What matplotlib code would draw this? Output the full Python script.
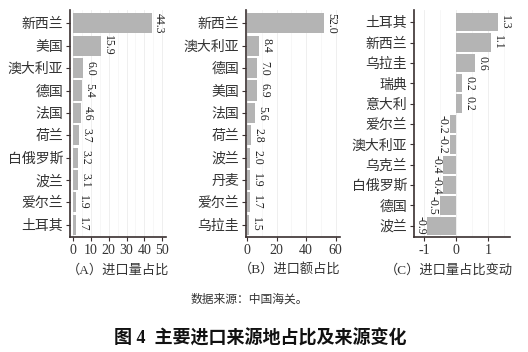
import matplotlib
matplotlib.use("Agg")
import matplotlib.pyplot as plt
from matplotlib.ticker import MultipleLocator

plt.rcParams['font.family'] = ['Liberation Serif', 'Noto Sans CJK SC', 'DejaVu Sans']
plt.rcParams['axes.unicode_minus'] = False

# Panel A: import volume share (%)
cats_a = ["新西兰", "美国", "澳大利亚", "德国", "法国", "荷兰", "白俄罗斯", "波兰", "爱尔兰", "土耳其"]
vals_a = [44.3, 15.9, 6.0, 5.4, 4.6, 3.7, 3.2, 3.1, 1.9, 1.7]
ticks_a = [0, 10, 20, 30, 40, 50]

# Panel B: import value share (%)
cats_b = ["新西兰", "澳大利亚", "德国", "美国", "法国", "荷兰", "波兰", "丹麦", "爱尔兰", "乌拉圭"]
vals_b = [52.0, 8.4, 7.0, 6.9, 5.6, 2.8, 2.0, 1.9, 1.7, 1.5]
ticks_b = [0, 20, 40, 60]

# Panel C: change in import volume share (pp)
cats_c = ["土耳其", "新西兰", "乌拉圭", "瑞典", "意大利", "爱尔兰", "澳大利亚", "乌克兰", "白俄罗斯", "德国", "波兰"]
vals_c = [1.3, 1.1, 0.6, 0.2, 0.2, -0.2, -0.2, -0.4, -0.4, -0.5, -0.9]
ticks_c = [-1, 0, 1]

subtitles = ["（A）进口量占比", "（B）进口额占比", "（C）进口量占比变动"]
source = "数据来源：中国海关。"
title = "图 4  主要进口来源地占比及来源变化"

W, H = 528, 352
fig = plt.figure(figsize=(W / 100, H / 100), dpi=100)
fig.patch.set_facecolor("white")

bar_color = "#b4b4b4"
spine_color = "#3a3030"
text_color = "#333333"

def panel(rect, cats, vals, ticks, xlim, minor, off):
    ax = fig.add_axes([rect[0] / W, 1 - rect[3] / H, (rect[2] - rect[0]) / W, (rect[3] - rect[1]) / H])
    n = len(cats)
    y = list(range(n))
    ax.barh(y, vals, height=0.9, color=bar_color, zorder=2)
    ax.set_yticks(y)
    ax.set_yticklabels(cats, fontsize=10, color=text_color)
    ax.set_ylim(n - 0.45, -0.6)
    ax.set_xlim(*xlim)
    ax.set_xticks(ticks)
    ax.set_xticklabels([str(t) for t in ticks], fontsize=10, color=text_color)
    ax.xaxis.set_minor_locator(MultipleLocator(minor))
    ax.grid(axis="x", which="major", color="#ececec", lw=0.6, zorder=0)
    ax.grid(axis="x", which="minor", color="#f4f4f4", lw=0.5, zorder=0)
    for s in ["top", "right"]:
        ax.spines[s].set_visible(False)
    for s in ["left", "bottom"]:
        ax.spines[s].set_color(spine_color)
        ax.spines[s].set_linewidth(1.2)
    ax.tick_params(axis="both", which="major", length=3, width=0.8, color=spine_color, pad=2)
    ax.tick_params(axis="x", which="minor", length=0)
    for yi, v in zip(y, vals):
        if v >= 0:
            ax.text(v + off, yi, f"{v:.1f}", rotation=270, ha="left", va="center", fontsize=8.5, color="#222222")
        else:
            ax.text(v - off, yi, f"{v:.1f}", rotation=270, ha="right", va="center", fontsize=8.5, color="#222222")
    return ax

panel((70, 10, 166, 237), cats_a, vals_a, ticks_a, (-1.5, 52), 5, 0.6)
panel((246, 10, 340, 237), cats_b, vals_b, ticks_b, (-0.7, 63), 10, 0.8)
panel((414, 10, 510, 237), cats_c, vals_c, ticks_c, (-1.31, 1.69), 0.5, 0.03)

fig.text(118 / W, 1 - 270 / H, subtitles[0], ha="center", va="center", fontsize=9.5, color=text_color)
fig.text(290 / W, 1 - 270 / H, subtitles[1], ha="center", va="center", fontsize=9.5, color=text_color)
fig.text(449 / W, 1 - 270 / H, subtitles[2], ha="center", va="center", fontsize=9.5, color=text_color)
fig.text(249 / W, 1 - 300 / H, source, ha="center", va="center", fontsize=8.5, color=text_color)
fig.text(260 / W, 1 - 338 / H, title, ha="center", va="center", fontsize=13, fontweight="bold", color="#111111")

fig.savefig("out.png", dpi=100)
